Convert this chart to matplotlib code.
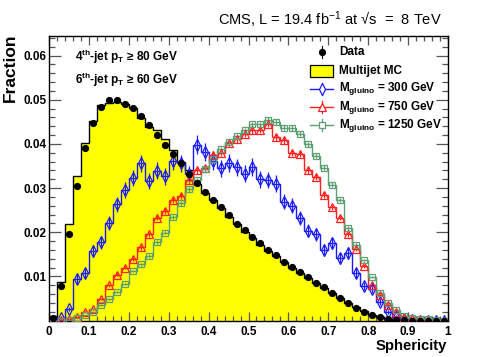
import numpy as np
import matplotlib
matplotlib.use("Agg")
import matplotlib.pyplot as plt
from matplotlib.patches import Rectangle
from matplotlib.ticker import MultipleLocator, FuncFormatter

plt.rcParams["font.family"] = ["Liberation Sans", "DejaVu Sans"]
plt.rcParams["mathtext.fontset"] = "custom"
plt.rcParams["mathtext.rm"] = "Liberation Sans"
plt.rcParams["mathtext.bf"] = "Liberation Sans:bold"
plt.rcParams["mathtext.default"] = "bf"

# sphericity binning: 50 bins of 0.02
S_MIN, S_MAX, N_BINS = 0.0, 1.0, 50

data = [0.0006, 0.0079, 0.0196, 0.0305, 0.0391, 0.0447, 0.0484, 0.0500, 0.0499, 0.0490,
        0.0482, 0.0464, 0.0442, 0.0420, 0.0398, 0.0377, 0.0357, 0.0331, 0.0312, 0.0291,
        0.0274, 0.0256, 0.0239, 0.0218, 0.0205, 0.0188, 0.0175, 0.0160, 0.0148, 0.0133,
        0.0122, 0.0109, 0.0098, 0.0086, 0.0075, 0.0062, 0.0052, 0.0040, 0.0029, 0.0020,
        0.0012, 0.0007, 0.0003, 0.0001, 0.00005, 0.0, 0.0, 0.0, 0.0, 0.0]

multijet_mc = [0.0010, 0.0088, 0.0218, 0.0327, 0.0401, 0.0452, 0.0487, 0.0493, 0.0495, 0.0490,
               0.0482, 0.0458, 0.0438, 0.0431, 0.0411, 0.0387, 0.0359, 0.0340, 0.0310, 0.0289,
               0.0273, 0.0254, 0.0235, 0.0218, 0.0201, 0.0187, 0.0172, 0.0158, 0.0147, 0.0133,
               0.0120, 0.0108, 0.0097, 0.0085, 0.0073, 0.0062, 0.0051, 0.0040, 0.0030, 0.0021,
               0.0013, 0.0008, 0.0004, 0.0002, 0.0001, 0.0, 0.0, 0.0, 0.0, 0.0]

m300 = [0.0, 0.0006, 0.0026, 0.0094, 0.0108, 0.0158, 0.0177, 0.0220, 0.0263, 0.0295,
        0.0323, 0.0356, 0.0316, 0.0339, 0.0327, 0.0362, 0.0356, 0.0331, 0.0398, 0.0382,
        0.0361, 0.0345, 0.0357, 0.0347, 0.0332, 0.0348, 0.0320, 0.0318, 0.0310, 0.0269,
        0.0260, 0.0233, 0.0203, 0.0195, 0.0160, 0.0176, 0.0141, 0.0153, 0.0107, 0.0078,
        0.0071, 0.0043, 0.0020, 0.0009, 0.0003, 0.0002, 0.0, 0.0, 0.0, 0.0]

m750 = [0.0, 0.0002, 0.0004, 0.0007, 0.0020, 0.0027, 0.0049, 0.0080, 0.0104, 0.0120,
        0.0139, 0.0166, 0.0195, 0.0233, 0.0248, 0.0273, 0.0282, 0.0318, 0.0340, 0.0345,
        0.0375, 0.0380, 0.0401, 0.0411, 0.0423, 0.0431, 0.0432, 0.0446, 0.0415, 0.0408,
        0.0380, 0.0378, 0.0340, 0.0325, 0.0284, 0.0256, 0.0233, 0.0195, 0.0163, 0.0123,
        0.0080, 0.0058, 0.0035, 0.0020, 0.0007, 0.0005, 0.0003, 0.0002, 0.0, 0.0]

m1250 = [0.0, 0.0, 0.0002, 0.0006, 0.0012, 0.0020, 0.0035, 0.0048, 0.0065, 0.0082,
         0.0112, 0.0127, 0.0146, 0.0178, 0.0199, 0.0235, 0.0265, 0.0297, 0.0318, 0.0343,
         0.0366, 0.0388, 0.0404, 0.0417, 0.0431, 0.0444, 0.0444, 0.0454, 0.0450, 0.0437,
         0.0436, 0.0423, 0.0399, 0.0373, 0.0346, 0.0308, 0.0273, 0.0210, 0.0171, 0.0137,
         0.0099, 0.0062, 0.0039, 0.0024, 0.0010, 0.0005, 0.0003, 0.0003, 0.0002, 0.0]

# effective event counts -> Poisson-like error bars
N_EFF = {"data": 2.0e6, "m300": 0.9e4, "m750": 6.0e4, "m1250": 1.2e5}

signals = [
    ("m300", m300, "#1a1aff", "d", 5.8, r"M$_{\mathregular{gluino}}$ = 300 GeV"),
    ("m750", m750, "#ff2020", "^", 5.2, r"M$_{\mathregular{gluino}}$ = 750 GeV"),
    ("m1250", m1250, "#5f9f74", "s", 4.6, r"M$_{\mathregular{gluino}}$ = 1250 GeV"),
]

W, H = 498, 357
fig = plt.figure(figsize=(W / 100, H / 100), dpi=100)
AX_L, AX_R, AX_T, AX_B = 49, 448, 35.7, 320.5
ax = fig.add_axes([AX_L / W, 1 - AX_B / H, (AX_R - AX_L) / W, (AX_B - AX_T) / H])

edges = np.linspace(S_MIN, S_MAX, N_BINS + 1)
centers = 0.5 * (edges[:-1] + edges[1:])

ax.stairs(multijet_mc, edges, fill=True, color="#ffff00", zorder=1)
ax.stairs(multijet_mc, edges, color="black", lw=1.0, zorder=2)

for key, vals, col, mk, ms, lab in signals:
    v = np.array(vals)
    err = np.sqrt(v / N_EFF[key])
    ax.stairs(v, edges, color=col, lw=1.0, zorder=3)
    ax.errorbar(centers, v, yerr=err, fmt=mk, color=col, mfc="none", mec=col,
                ms=ms, mew=0.9, elinewidth=0.9, capsize=0, zorder=4)

d = np.array(data)
ax.errorbar(centers, d, yerr=np.sqrt(d / N_EFF["data"]), fmt="o", color="black",
            ms=4.2, elinewidth=0.8, capsize=0, zorder=5)

ax.set_xlim(S_MIN, S_MAX)
ax.set_ylim(0, 0.0645)
ax.xaxis.set_major_locator(MultipleLocator(0.1))
ax.xaxis.set_minor_locator(MultipleLocator(0.02))
ax.yaxis.set_major_locator(MultipleLocator(0.01))
ax.yaxis.set_minor_locator(MultipleLocator(0.002))
ax.xaxis.set_major_formatter(FuncFormatter(lambda v, p: f"{v:g}"))
ax.yaxis.set_major_formatter(FuncFormatter(lambda v, p: "" if abs(v) < 1e-9 else f"{v:.2f}"))
ax.tick_params(axis="both", which="both", direction="in", top=True, right=True,
               color="#555555", width=0.9)
ax.tick_params(axis="x", which="major", length=6.5, pad=4)
ax.tick_params(axis="x", which="minor", length=3.3)
ax.tick_params(axis="y", which="major", length=8.5, pad=2)
ax.tick_params(axis="y", which="minor", length=4.3)
for lbl in ax.get_xticklabels() + ax.get_yticklabels():
    lbl.set_fontweight("bold")
    lbl.set_fontsize(8.5)
for sp in ax.spines.values():
    sp.set_linewidth(1.0)


def px(x, y):
    return (x - AX_L) / (AX_R - AX_L), (AX_B - y) / (AX_B - AX_T)


# selection text
ax.text(*px(75, 57), "4$^{th}$-jet p$_T$ \u2265 80 GeV", transform=ax.transAxes,
        fontsize=8.5, fontweight="bold", va="center", ha="left")
ax.text(*px(75, 80), "6$^{th}$-jet p$_T$ \u2265 60 GeV", transform=ax.transAxes,
        fontsize=8.5, fontweight="bold", va="center", ha="left")

# legend, drawn by hand in ROOT style
LX0, LX1, LXM, LTXT = 310, 333, 321.7, 339
rows_y = [52, 71, 89, 107, 125]
x, y = px(LXM, rows_y[0])
ax.plot([x], [y], "o", color="black", ms=4.2, transform=ax.transAxes, clip_on=False)
ax.plot([x, x], [px(0, rows_y[0] - 6)[1], px(0, rows_y[0] + 6)[1]], color="black",
        lw=0.8, transform=ax.transAxes, clip_on=False)
ax.text(*px(LTXT, rows_y[0]), "Data", transform=ax.transAxes, fontsize=8.5,
        fontweight="bold", va="center")
bx0, by0 = px(LX0, rows_y[1] + 6)
bx1, by1 = px(LX1, rows_y[1] - 6)
ax.add_patch(Rectangle((bx0, by0), bx1 - bx0, by1 - by0, facecolor="#ffff00",
                       edgecolor="black", lw=0.9, transform=ax.transAxes, zorder=6))
ax.text(*px(LTXT, rows_y[1]), "Multijet MC", transform=ax.transAxes, fontsize=8.5,
        fontweight="bold", va="center")
for (key, vals, col, mk, ms, lab), ry in zip(signals, rows_y[2:]):
    x0, y0 = px(LX0, ry)
    x1, _ = px(LX1, ry)
    xm, _ = px(LXM, ry)
    ax.plot([x0, x1], [y0, y0], color=col, lw=1.0, transform=ax.transAxes)
    ax.plot([xm, xm], [px(0, ry - 6)[1], px(0, ry + 6)[1]], color=col, lw=0.9,
            transform=ax.transAxes)
    ax.plot([xm], [y0], mk, color=col, mfc="white", mec=col, ms=ms, mew=0.9,
            transform=ax.transAxes)
    ax.text(*px(LTXT, ry), lab, transform=ax.transAxes, fontsize=8.5,
            fontweight="bold", va="center")

fig.text(442 / W, 1 - 20 / H,
         "CMS, L = 19.4 fb$\\mathrm{^{-1}}$ at \u221As  =  8 TeV",
         fontsize=10.5, ha="right", va="center")
fig.text(10 / W, 1 - 33 / H, "Fraction", rotation=90, fontsize=12.5,
         fontweight="bold", ha="center", va="top")
fig.text(447 / W, 1 - 346 / H, "Sphericity", fontsize=10.7, fontweight="bold",
         ha="right", va="center")

fig.savefig("out.png", dpi=100)
